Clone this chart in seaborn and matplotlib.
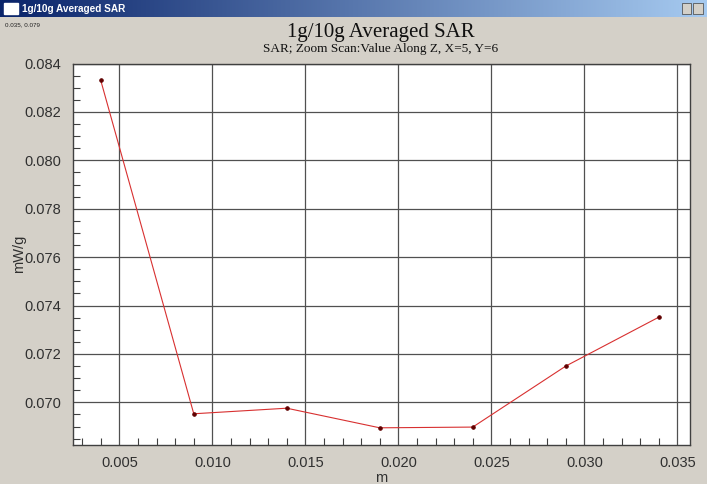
import numpy as np
import pandas as pd
import seaborn as sns
import matplotlib
matplotlib.use('Agg')
import matplotlib.pyplot as plt
from matplotlib.ticker import MultipleLocator, FormatStrFormatter

# данные
depth_m = [0.004, 0.009, 0.014, 0.019, 0.024, 0.029, 0.034]
sar_mwg = [0.08330, 0.06953, 0.06976, 0.06895, 0.06898, 0.07150, 0.07352]
x_ticks = [0.005, 0.010, 0.015, 0.020, 0.025, 0.030, 0.035]
y_ticks = [0.070, 0.072, 0.074, 0.076, 0.078, 0.080, 0.082, 0.084]

df = pd.DataFrame({'m': depth_m, 'SAR': sar_mwg})

sns.set_style('white')
plt.rcParams['font.family'] = ['Liberation Sans', 'DejaVu Sans']

W, H = 707, 484
fig = plt.figure(figsize=(W / 100, H / 100), dpi=100)
fig.patch.set_facecolor('#d4d0c8')

# заголовок окна (синяя полоса)
bar = fig.add_axes([0, 1 - 17 / H, 1, 17 / H])
grad = np.linspace(0, 1, 256).reshape(1, -1)
cmap = matplotlib.colors.LinearSegmentedColormap.from_list('win', ['#0a246a', '#a6caf0'])
bar.imshow(grad, aspect='auto', cmap=cmap, extent=[0, 1, 0, 1])
bar.set_axis_off()
bar.add_patch(plt.Rectangle((0.006, 0.2), 0.019, 0.6, color='white'))
bar.add_patch(plt.Rectangle((0.964, 0.15), 0.014, 0.7, facecolor='#d4d0c8', edgecolor='#404040', lw=0.5))
bar.add_patch(plt.Rectangle((0.980, 0.15), 0.014, 0.7, facecolor='#d4d0c8', edgecolor='#404040', lw=0.5))
bar.text(0.031, 0.5, '1g/10g Averaged SAR', color='white', fontsize=7.2,
         fontweight='bold', va='center', ha='left')
bar.set_xlim(0, 1)
bar.set_ylim(0, 1)

fig.text(5 / W, 1 - 25 / H, '0.035, 0.079', fontsize=4.5, color='#202020', va='center')

ax = fig.add_axes([72.5 / W, 1 - 445 / H, (690 - 72.5) / W, (445 - 63.5) / H])
ax.set_facecolor('white')

sns.lineplot(data=df, x='m', y='SAR', ax=ax, color='#d83030', linewidth=0.8,
             marker='o', markersize=2.5, markerfacecolor='#600000',
             markeredgecolor='#600000')

ax.set_xlim(0.00248, 0.03568)
ax.set_ylim(0.06824, 0.08400)
ax.set_xticks(x_ticks)
ax.set_yticks(y_ticks)
ax.xaxis.set_major_formatter(FormatStrFormatter('%.3f'))
ax.yaxis.set_major_formatter(FormatStrFormatter('%.3f'))
ax.xaxis.set_minor_locator(MultipleLocator(0.001))
ax.yaxis.set_minor_locator(MultipleLocator(0.0005))
ax.grid(True, which='major', color='#505050', linewidth=0.9)
ax.tick_params(which='major', direction='out', length=6, width=0.8,
               color='#404040', labelsize=10.5, labelcolor='#303030', pad=2)
ax.tick_params(which='minor', direction='in', length=5, width=0.8,
               color='#404040', bottom=True, left=True)
ax.tick_params(top=False, right=False, which='both')
for s in ax.spines.values():
    s.set_color('#404040')
    s.set_linewidth(1.0)

ax.set_xlabel('m', fontsize=10.5, color='#303030', labelpad=1)
ax.set_ylabel('mW/g', fontsize=10.5, color='#303030', labelpad=-1)

fig.text(381 / W, 1 - 32 / H, '1g/10g Averaged SAR', fontsize=15,
         family=['Liberation Serif', 'DejaVu Serif'], ha='center', va='center', color='#101010')
fig.text(381 / W, 1 - 49 / H, 'SAR; Zoom Scan:Value Along Z, X=5, Y=6', fontsize=9.5,
         family=['Liberation Serif', 'DejaVu Serif'], ha='center', va='center', color='#101010')

plt.savefig('out.png', dpi=100, facecolor=fig.get_facecolor())
